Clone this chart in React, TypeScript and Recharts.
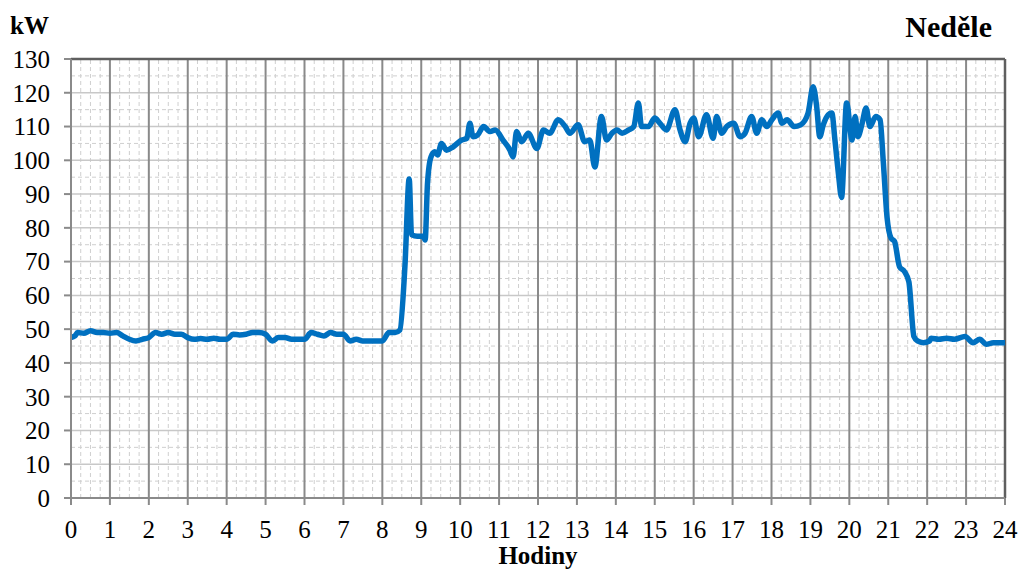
import React from "react";
import {
  LineChart,
  Line,
  XAxis,
  YAxis,
  ReferenceLine,
} from "recharts";

// hodiny (h) a odběr (kW)
const hours = [
  0, 0.1, 0.17, 0.33, 0.5, 0.67, 0.83, 1.0, 1.17, 1.33, 1.5, 1.67, 1.83,
  2.0, 2.17, 2.33, 2.5, 2.67, 2.83, 3.0, 3.17, 3.33, 3.5, 3.67, 3.83,
  4.0, 4.17, 4.33, 4.5, 4.67, 4.83, 5.0, 5.17, 5.33, 5.5, 5.67, 5.83,
  6.0, 6.17, 6.33, 6.5, 6.67, 6.83, 7.0, 7.17, 7.33, 7.5, 7.67, 7.83,
  8.0, 8.17, 8.33, 8.45, 8.58, 8.69, 8.75, 8.9, 9.05, 9.1, 9.16, 9.25,
  9.35, 9.42, 9.52, 9.65, 9.82, 10.04, 10.17, 10.25, 10.33, 10.45, 10.6,
  10.77, 10.9, 11.1, 11.28, 11.36, 11.45, 11.58, 11.75, 11.97, 12.14,
  12.3, 12.52, 12.7, 12.82, 13.03, 13.2, 13.33, 13.46, 13.63, 13.76,
  13.9, 14.03, 14.16, 14.33, 14.46, 14.58, 14.66, 14.84, 15.0, 15.13,
  15.3, 15.52, 15.65, 15.78, 15.91, 16.0, 16.13, 16.33, 16.5, 16.59,
  16.72, 16.85, 17.03, 17.19, 17.32, 17.49, 17.62, 17.75, 17.88, 18.01,
  18.17, 18.27, 18.4, 18.58, 18.75, 18.94, 19.07, 19.16, 19.24, 19.33,
  19.46, 19.55, 19.63, 19.72, 19.8, 19.93, 20.07, 20.15, 20.22, 20.33,
  20.43, 20.53, 20.68, 20.79, 20.87, 20.97, 21.07, 21.16, 21.29, 21.42,
  21.53, 21.66, 21.75, 21.9, 22.06, 22.1, 22.3, 22.5, 22.7, 22.97,
  23.18, 23.35, 23.52, 23.7, 24,
];

const kw = [
  47.5, 48, 49, 48.8, 49.5, 49, 49, 48.8, 49, 48, 47, 46.5, 47,
  47.5, 49, 48.5, 49, 48.5, 48.5, 47.5, 47, 47.2, 47, 47.3, 47,
  47, 48.5, 48.3, 48.5, 49, 49, 48.5, 46.5, 47.5, 47.5, 47, 47,
  47, 49, 48.5, 48, 49, 48.5, 48.5, 46.5, 47, 46.5, 46.5, 46.5,
  46.5, 49, 49, 49.7, 68.5, 94.5, 78, 77.5, 77.5, 76.4, 93, 101,
  102.5, 101.6, 105, 103, 104, 106, 106.5, 111, 107, 107.5, 110,
  108.5, 109, 106, 103, 101, 108.5, 105.5, 108, 103.5, 109,
  108, 112, 110, 108, 110.5, 105.5, 106, 98, 113, 106,
  108, 109, 108, 109, 110, 117, 110, 110, 112.5, 111,
  109, 115, 109, 105.5, 111, 112.5, 107, 113.5, 106.5, 113,
  108, 110, 111, 107, 108, 113, 108, 112, 110, 112,
  114, 111, 112, 110, 110.5, 114, 121.8, 116, 107, 110.5,
  113.5, 114, 106, 96, 89, 117, 106, 113, 107, 111,
  115.5, 110, 113, 112, 100, 83, 77, 76, 68.5, 67,
  64, 47.8, 46.5, 46, 46.5, 47.3, 47, 47.3, 47, 47.8,
  46, 47, 45.5, 46, 46,
];

const xTicks = Array.from({ length: 25 }, (_, i) => i);
const yTicks = Array.from({ length: 14 }, (_, i) => i * 10);
const minorX = Array.from({ length: 96 }, (_, i) => i * 0.25).filter(
  (h) => h % 1 !== 0
);
const minorY = Array.from({ length: 13 }, (_, i) => i * 10 + 5);

const data = hours.map((h, i) => ({ h, kw: kw[i] }));

const serif = "Liberation Serif";

const XTick = ({ x, y, payload }: any) => (
  <text
    x={x}
    y={y + 13}
    dy="0.71em"
    textAnchor="middle"
    fontFamily={serif}
    fontSize={25}
    fill="#000"
  >
    {payload.value}
  </text>
);

const YTick = ({ x, y, payload }: any) => (
  <text
    x={x - 12}
    y={y}
    dy="0.355em"
    textAnchor="end"
    fontFamily={serif}
    fontSize={25}
    fill="#000"
  >
    {payload.value}
  </text>
);

export default function App() {
  return (
    <div
      style={{
        position: "absolute",
        left: 0,
        top: 0,
        width: 1019,
        height: 570,
        background: "#fff",
        fontFamily: serif,
      }}
    >
      <LineChart
        width={1019}
        height={570}
        data={data}
        margin={{ top: 59, right: 14, bottom: 42, left: 11 }}
      >
        {minorX.map((h) => (
          <ReferenceLine
            key={"mx" + h}
            x={h}
            stroke="#cfcfcf"
            strokeWidth={1}
            strokeDasharray="4 3"
          />
        ))}
        {minorY.map((v) => (
          <ReferenceLine
            key={"my" + v}
            y={v}
            stroke="#cfcfcf"
            strokeWidth={1}
            strokeDasharray="4 3"
          />
        ))}
        {yTicks.slice(1, -1).map((v) => (
          <ReferenceLine key={"y" + v} y={v} stroke="#c8c8c8" strokeWidth={1.5} />
        ))}
        {xTicks.slice(1, -1).map((h) => (
          <ReferenceLine key={"x" + h} x={h} stroke="#8a8a8a" strokeWidth={2} />
        ))}
        <ReferenceLine y={130} stroke="#5f5f5f" strokeWidth={2.5} />
        <ReferenceLine x={24} stroke="#5f5f5f" strokeWidth={2.5} />

        <XAxis
          dataKey="h"
          type="number"
          domain={[0, 24]}
          ticks={xTicks}
          interval={0}
          height={30}
          tickSize={7}
          axisLine={{ stroke: "#8a8a8a", strokeWidth: 2 }}
          tickLine={{ stroke: "#8a8a8a", strokeWidth: 2 }}
          tick={<XTick />}
        />
        <YAxis
          type="number"
          domain={[0, 130]}
          ticks={yTicks}
          interval={0}
          width={60}
          tickSize={7}
          axisLine={{ stroke: "#8a8a8a", strokeWidth: 2 }}
          tickLine={{ stroke: "#8a8a8a", strokeWidth: 2 }}
          tick={<YTick />}
        />

        <Line
          type="monotone"
          dataKey="kw"
          stroke="#0070c0"
          strokeWidth={5.5}
          dot={false}
          isAnimationActive={false}
        />
      </LineChart>

      <div
        style={{
          position: "absolute",
          left: 10,
          top: 11,
          fontSize: 25,
          fontWeight: "bold",
          lineHeight: "30px",
        }}
      >
        kW
      </div>
      <div
        style={{
          position: "absolute",
          right: 27,
          top: 10,
          fontSize: 30,
          fontWeight: "bold",
          lineHeight: "34px",
        }}
      >
        Neděle
      </div>
      <div
        style={{
          position: "absolute",
          left: 0,
          width: 1076,
          top: 545,
          textAlign: "center",
          fontSize: 25,
          fontWeight: "bold",
          lineHeight: "22px",
        }}
      >
        Hodiny
      </div>
    </div>
  );
}
